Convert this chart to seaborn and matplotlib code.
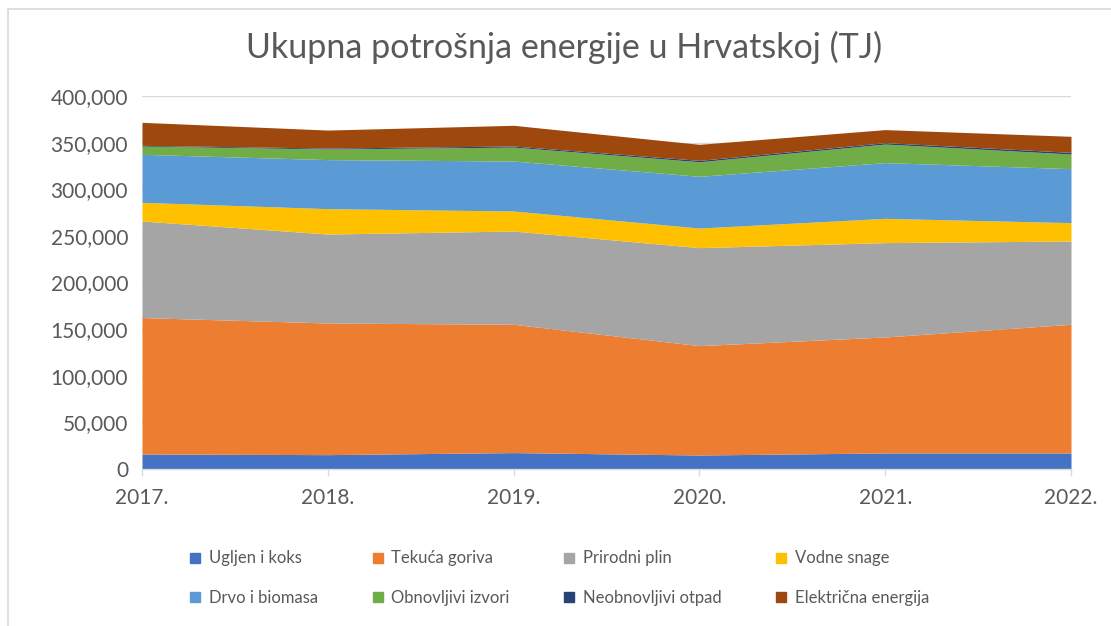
import numpy as np
import pandas as pd
import seaborn as sns
import matplotlib.pyplot as plt
from matplotlib.lines import Line2D
from matplotlib.patches import Rectangle
from matplotlib.ticker import StrMethodFormatter

# Data (TJ)
years = [2017, 2018, 2019, 2020, 2021, 2022]
year_labels = ['2017.', '2018.', '2019.', '2020.', '2021.', '2022.']

ugljen = [16100, 15400, 17600, 15000, 17200, 17200]
tekuca = [146300, 141200, 137600, 117300, 124400, 138000]
plin = [103600, 95400, 100000, 105100, 101200, 89300]
vodne = [20000, 27200, 21500, 21000, 26000, 19700]
drvo = [51500, 52600, 53600, 55500, 59800, 57900]
obnovljivi = [8800, 11400, 14900, 15600, 19900, 15700]
otpad = [800, 1000, 1200, 1500, 1500, 1800]
elektricna = [24700, 19300, 22200, 17200, 14000, 17200]

series_names = ['Ugljen i koks', 'Tekuća goriva', 'Prirodni plin', 'Vodne snage',
                'Drvo i biomasa', 'Obnovljivi izvori', 'Neobnovljivi otpad', 'Električna energija']
colors = ['#4472C4', '#ED7D31', '#A5A5A5', '#FFC000',
          '#5B9BD5', '#70AD47', '#264478', '#9E480E']

df = pd.DataFrame({
    'Godina': years,
    series_names[0]: ugljen,
    series_names[1]: tekuca,
    series_names[2]: plin,
    series_names[3]: vodne,
    series_names[4]: drvo,
    series_names[5]: obnovljivi,
    series_names[6]: otpad,
    series_names[7]: elektricna,
})

sns.set_theme(style='white')
plt.rcParams['font.family'] = ['Lato', 'DejaVu Sans']
text_col = '#595959'

fig = plt.figure(figsize=(11.11, 6.26), dpi=100)
ax = fig.add_axes([0.1278, 0.2508, 0.8362, 0.5958])

ax.stackplot(df['Godina'], [df[n] for n in series_names], colors=colors,
             labels=series_names, linewidth=0, zorder=2)

ax.set_xlim(years[0], years[-1])
ax.set_ylim(0, 400000)
ax.set_yticks(np.arange(0, 400001, 50000))
ax.yaxis.set_major_formatter(StrMethodFormatter('{x:,.0f}'))
ax.set_xticks(years)
ax.set_xticklabels(year_labels)
ax.grid(axis='y', color='#D9D9D9', linewidth=1, zorder=0)
ax.set_axisbelow(True)

for s in ['top', 'right', 'left']:
    ax.spines[s].set_visible(False)
ax.spines['bottom'].set_color('#D9D9D9')
ax.spines['bottom'].set_linewidth(1)
ax.spines['bottom'].set_zorder(3)

ax.tick_params(axis='y', length=0, labelsize=15, labelcolor=text_col, pad=10)
ax.tick_params(axis='x', length=5, width=1, color='#D9D9D9', direction='out',
               labelsize=15, labelcolor=text_col, pad=9, bottom=True)

fig.text(0.508, 1 - 47 / 626, 'Ukupna potrošnja energije u Hrvatskoj (TJ)',
         ha='center', va='center', fontsize=24.5, color=text_col)

# legend laid out row by row like the original
handles = [Line2D([], [], marker='s', linestyle='', markersize=6.5,
                  markerfacecolor=c, markeredgecolor=c) for c in colors]
order = [0, 4, 1, 5, 2, 6, 3, 7]
fig.legend([handles[i] for i in order], [series_names[i] for i in order],
           ncol=4, loc='center', bbox_to_anchor=(0.503, 1 - 578 / 626), frameon=False,
           fontsize=12, labelcolor=text_col, handletextpad=0.4,
           columnspacing=3.2, labelspacing=1.4, handlelength=0.8)

# chart frame
fig.patches.append(Rectangle((8 / 1111, -0.05), 1.2, 1 - 9 / 626 + 0.05,
                             transform=fig.transFigure, fill=False,
                             edgecolor='#D9D9D9', linewidth=1.2))

fig.savefig('out.png', dpi=100)
